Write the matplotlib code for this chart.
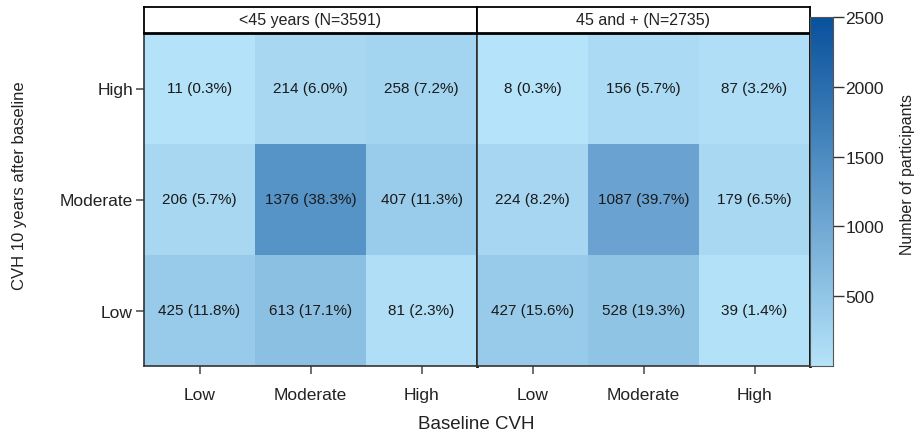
import matplotlib
matplotlib.use("Agg")
import matplotlib.pyplot as plt
from matplotlib.colors import LinearSegmentedColormap, Normalize
import numpy as np

plt.rcParams["font.family"] = ["Liberation Sans", "DejaVu Sans"]

levels   = ["Low", "Moderate", "High"]
rows     = ["High", "Moderate", "Low"]          # top to bottom
groups   = ["<45 years", "45 and +"]

# counts: rows = CVH 10 years later (High, Moderate, Low), cols = baseline (Low, Moderate, High)
young = [[11, 214, 258],
         [206, 1376, 407],
         [425, 613, 81]]
old   = [[8, 156, 87],
         [224, 1087, 179],
         [427, 528, 39]]

cmap = LinearSegmentedColormap.from_list("blues", ["#b5e3f9", "#08519c"])
norm = Normalize(vmin=0, vmax=2500)

fig = plt.figure(figsize=(9.21, 4.39), dpi=100)

W, H = 921, 439
def box(x0, y0, x1, y1):
    return [x0 / W, 1 - y1 / H, (x1 - x0) / W, (y1 - y0) / H]

panels = [(144, 477), (477, 810)]
edge = "#333333"
tc = "#222222"

for i, (counts, grp) in enumerate(zip([young, old], groups)):
    counts = np.array(counts)
    n = counts.sum()
    x0, x1 = panels[i]
    ax = fig.add_axes(box(x0, 34, x1, 367))
    ax.pcolormesh(np.arange(4), np.arange(4), counts[::-1], cmap=cmap, norm=norm)
    for r in range(3):
        for c in range(3):
            v = counts[r, c]
            ax.text(c + 0.5, 2.5 - r, f"{v} ({100 * v / n:.1f}%)",
                    ha="center", va="center", fontsize=11, color="#1a1a1a")
    ax.set_xlim(0, 3)
    ax.set_ylim(0, 3)
    ax.set_xticks(np.arange(3) + 0.5)
    ax.set_xticklabels(levels, fontsize=12.5, color=tc)
    ax.tick_params(axis="x", length=6, width=1.2, color="#555555", pad=9)
    if i == 0:
        ax.set_yticks(np.arange(3) + 0.5)
        ax.set_yticklabels(rows[::-1], fontsize=12.5, color=tc)
        ax.tick_params(axis="y", length=6, width=1.2, color="#555555", pad=2)
    else:
        ax.set_yticks([])
    for s in ax.spines.values():
        s.set_color(edge)
        s.set_linewidth(1.2)
    ax.spines["right"].set_color("black")
    ax.spines["right"].set_linewidth(2)

    # panel header
    sx = fig.add_axes(box(x0, 8, x1, 34))
    sx.set_xticks([])
    sx.set_yticks([])
    sx.set_facecolor("white")
    for s in sx.spines.values():
        s.set_color("black")
        s.set_linewidth(1.3)
    sx.spines["bottom"].set_linewidth(2)
    sx.text(0.5, 0.5, f"{grp} (N={n})", ha="center", va="center",
            fontsize=11.5, color=tc, transform=sx.transAxes)

fig.text(20 / W, 1 - 186 / H, "CVH 10 years after baseline", rotation=90,
         ha="center", va="center", fontsize=12, color=tc)
fig.text(476 / W, 1 - 425 / H, "Baseline CVH", ha="center", va="center",
         fontsize=13.5, color=tc)

cax = fig.add_axes(box(810, 18, 833, 367))
grad = np.linspace(0, 2500, 256).reshape(-1, 1)
cax.imshow(grad, aspect="auto", origin="lower", cmap=cmap, norm=norm,
           extent=[0, 1, 0, 2500])
cax.set_xticks([])
cax.yaxis.tick_right()
cax.set_yticks([500, 1000, 1500, 2000, 2500])
cax.tick_params(axis="y", length=8, width=1, color="#333333", labelsize=12.5,
                labelcolor=tc, pad=1)
for s in cax.spines.values():
    s.set_color("#555555")
    s.set_linewidth(0.8)
fig.text(907 / W, 1 - 175 / H, "Number of participants", rotation=90,
         ha="center", va="center", fontsize=11.5, color=tc)

fig.savefig("out.png", dpi=100)
